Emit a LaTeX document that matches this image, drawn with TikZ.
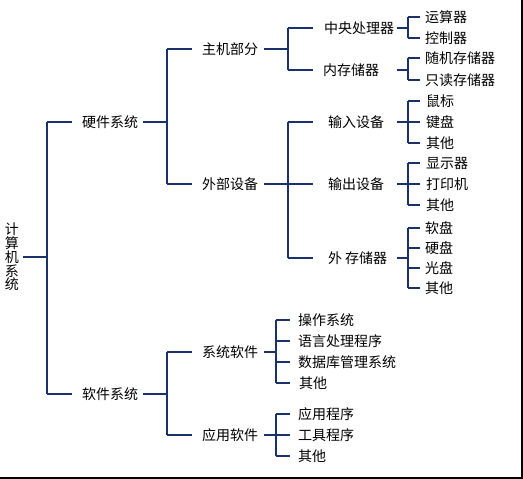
\documentclass[tikz,border=0pt]{standalone}
\usepackage{fontspec}
\newfontfamily\cjk{Noto Sans CJK SC}
\definecolor{navy}{RGB}{25,50,105}
\begin{document}
\begin{tikzpicture}[x=1pt,y=-1pt,
  lbl/.style={font=\cjk\fontsize{14}{16}\selectfont, inner sep=0pt, anchor=west, text=black},
  ln/.style={draw=navy, line width=1.1pt},
  edge/.style={draw=black, line width=2pt}]
\useasboundingbox (0,0) rectangle (523,479);
% frame (right and bottom)
\coordinate (fr1) at (522,0);
\coordinate (fr2) at (522,478);
\coordinate (fr3) at (0,478);
\draw[edge] (fr1) -- (fr2) -- (fr3);
% bus coordinates
\coordinate (bA) at (47,0);
\coordinate (bB) at (167,0);
\coordinate (bC) at (288,0);
\coordinate (bD) at (408,0);
\coordinate (bE) at (276,0);
% nodes
\node[lbl, anchor=center, align=center, font=\cjk\fontsize{14}{13.8}\selectfont] (root) at (12,257) {计\\算\\机\\系\\统};
\node[lbl] (hw) at (82,122) {硬件系统};
\node[lbl] (sw) at (82,394) {软件系统};
\node[lbl] (host) at (202,49) {主机部分};
\node[lbl] (ext) at (202,184) {外部设备};
\node[lbl] (sys) at (202,352) {系统软件};
\node[lbl] (app) at (202,435) {应用软件};
\node[lbl] (cpu) at (324,28) {中央处理器};
\node[lbl] (mem) at (323,70) {内存储器};
\node[lbl] (inp) at (328,122) {输入设备};
\node[lbl] (outp) at (328,184) {输出设备};
\node[lbl] (stor) at (328,258) {外\hspace{3pt}存储器};
\node[lbl] (alu) at (425,17) {运算器};
\node[lbl] (ctl) at (425,38) {控制器};
\node[lbl] (ram) at (425,58) {随机存储器};
\node[lbl] (rom) at (425,80) {只读存储器};
\node[lbl] (mouse) at (426,101) {鼠标};
\node[lbl] (kbd) at (426,122) {键盘};
\node[lbl] (oth1) at (426,143) {其他};
\node[lbl] (disp) at (426,163) {显示器};
\node[lbl] (prn) at (426,184) {打印机};
\node[lbl] (oth2) at (426,205) {其他};
\node[lbl] (fd) at (425,228) {软盘};
\node[lbl] (hd) at (425,248) {硬盘};
\node[lbl] (cd) at (425,268) {光盘};
\node[lbl] (oth3) at (425,288) {其他};
\node[lbl] (os) at (298,320) {操作系统};
\node[lbl] (lang) at (298,341) {语言处理程序};
\node[lbl] (db) at (298,362) {数据库管理系统};
\node[lbl] (oth4) at (299,383) {其他};
\node[lbl] (aprog) at (298,414) {应用程序};
\node[lbl] (tool) at (298,435) {工具程序};
\node[lbl] (oth5) at (298,456) {其他};
% level 0 -> 1
\draw[ln] (bA |- root) -- ++(-24,0);
\draw[ln] (bA |- hw) -- (bA |- sw);
\draw[ln] (bA |- hw) -- ++(25,0);
\draw[ln] (bA |- sw) -- ++(25,0);
% hardware
\draw[ln] (bB |- hw) -- ++(-24,0);
\draw[ln] (bB |- host) -- (bB |- ext);
\draw[ln] (bB |- host) -- ++(25,0);
\draw[ln] (bB |- ext) -- ++(25,0);
% host
\draw[ln] (bC |- host) -- ++(-24,0);
\draw[ln] (bC |- cpu) -- (bC |- mem);
\draw[ln] (bC |- cpu) -- ++(25,0);
\draw[ln] (bC |- mem) -- ++(25,0);
% external devices
\draw[ln] (bC |- ext) -- ++(-24,0);
\draw[ln] (bC |- inp) -- (bC |- stor);
\draw[ln] (bC |- inp) -- ++(25,0);
\draw[ln] (bC |- outp) -- ++(25,0);
\draw[ln] (bC |- stor) -- ++(25,0);
% cpu
\draw[ln] (bD |- cpu) -- ++(-11,0);
\draw[ln] (bD |- alu) -- (bD |- ctl);
\draw[ln] (bD |- alu) -- ++(12,0);
\draw[ln] (bD |- ctl) -- ++(12,0);
% memory
\draw[ln] (bD |- mem) -- ++(-11,0);
\draw[ln] (bD |- ram) -- (bD |- rom);
\draw[ln] (bD |- ram) -- ++(12,0);
\draw[ln] (bD |- rom) -- ++(12,0);
% input
\draw[ln] (bD |- inp) -- ++(-11,0);
\draw[ln] (bD |- mouse) -- (bD |- oth1);
\draw[ln] (bD |- mouse) -- ++(12,0);
\draw[ln] (bD |- kbd) -- ++(12,0);
\draw[ln] (bD |- oth1) -- ++(12,0);
% output
\draw[ln] (bD |- outp) -- ++(-11,0);
\draw[ln] (bD |- disp) -- (bD |- oth2);
\draw[ln] (bD |- disp) -- ++(12,0);
\draw[ln] (bD |- prn) -- ++(12,0);
\draw[ln] (bD |- oth2) -- ++(12,0);
% storage
\draw[ln] (bD |- stor) -- ++(-11,0);
\draw[ln] (bD |- fd) -- (bD |- oth3);
\draw[ln] (bD |- fd) -- ++(12,0);
\draw[ln] (bD |- hd) -- ++(12,0);
\draw[ln] (bD |- cd) -- ++(12,0);
\draw[ln] (bD |- oth3) -- ++(12,0);
% software
\draw[ln] (bB |- sw) -- ++(-24,0);
\draw[ln] (bB |- sys) -- (bB |- app);
\draw[ln] (bB |- sys) -- ++(25,0);
\draw[ln] (bB |- app) -- ++(25,0);
% system software
\draw[ln] (bE |- sys) -- ++(-12,0);
\draw[ln] (bE |- os) -- (bE |- oth4);
\draw[ln] (bE |- os) -- ++(14,0);
\draw[ln] (bE |- lang) -- ++(14,0);
\draw[ln] (bE |- db) -- ++(14,0);
\draw[ln] (bE |- oth4) -- ++(14,0);
% application software
\draw[ln] (bE |- app) -- ++(-12,0);
\draw[ln] (bE |- aprog) -- (bE |- oth5);
\draw[ln] (bE |- aprog) -- ++(14,0);
\draw[ln] (bE |- tool) -- ++(14,0);
\draw[ln] (bE |- oth5) -- ++(14,0);
\end{tikzpicture}
\end{document}
